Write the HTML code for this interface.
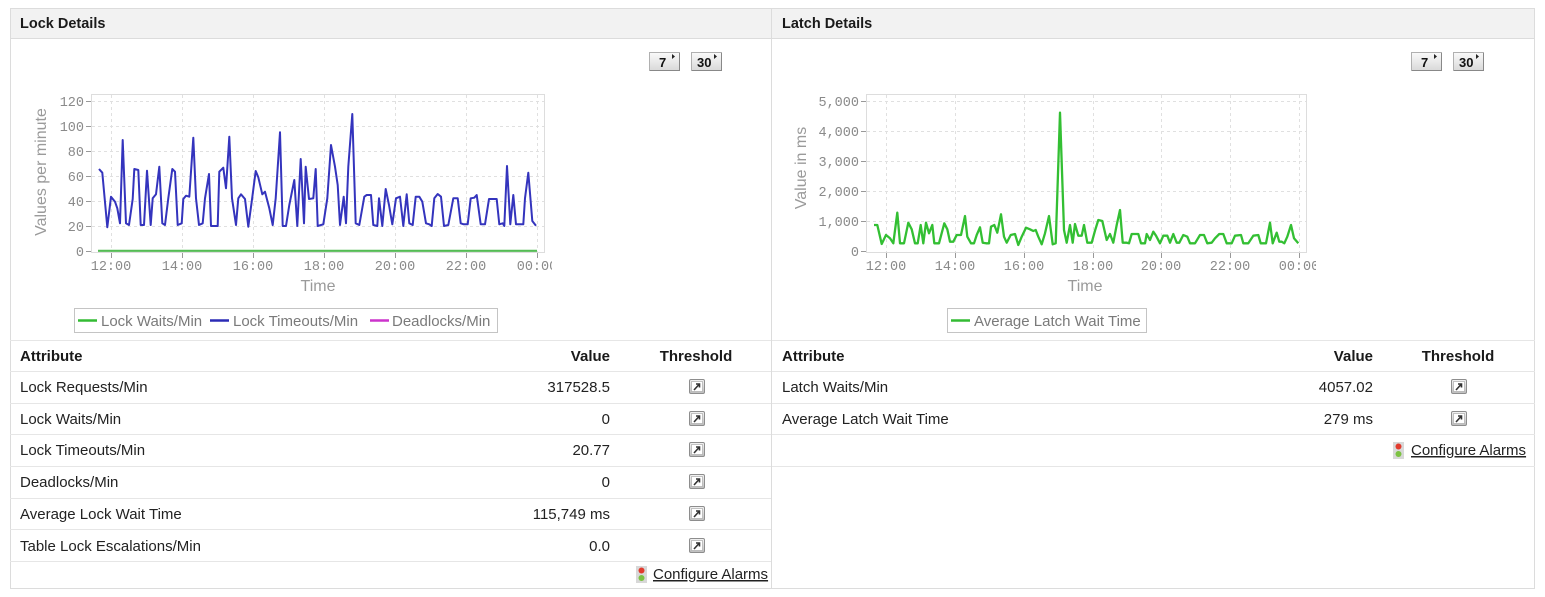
<!DOCTYPE html>
<html>
<head>
<meta charset="utf-8">
<style>
  html,body{margin:0;padding:0;background:#fff;}
  body{width:1545px;height:597px;overflow:hidden;font-family:"Liberation Sans",Arial,sans-serif;}
  svg{display:block;}
  .hdr{font:bold 14.5px "Liberation Sans",Arial,sans-serif;fill:#1a1a1a;}
  .th{font:bold 15px "Liberation Sans",Arial,sans-serif;fill:#1a1a1a;}
  .td{font:15px "Liberation Sans",Arial,sans-serif;fill:#222;}
  .tick{font:13.5px "Liberation Mono","Courier New",monospace;fill:#8a8a8a;}
  .axt{font:16px "Liberation Sans",Arial,sans-serif;fill:#9a9a9a;}
  .leg{font:15px "Liberation Sans",Arial,sans-serif;fill:#7a7a7a;}
  .btn{font:bold 13px "Liberation Sans",Arial,sans-serif;fill:#111;}
  .lnk{font:15px "Liberation Sans",Arial,sans-serif;fill:#222;text-decoration:underline;}
</style>
</head>
<body>
<svg width="1545" height="597" viewBox="0 0 1545 597" xmlns="http://www.w3.org/2000/svg">
  <defs>
    <linearGradient id="bg" x1="0" y1="0" x2="0" y2="1">
      <stop offset="0" stop-color="#fafafa"/>
      <stop offset="1" stop-color="#d9d9d9"/>
    </linearGradient>
    <linearGradient id="ig" x1="0" y1="0" x2="0" y2="1">
      <stop offset="0" stop-color="#f4f4f4"/>
      <stop offset="1" stop-color="#bdbdbd"/>
    </linearGradient>
    <clipPath id="cl"><rect x="0" y="80" width="552" height="220"/></clipPath>
    <clipPath id="cr"><rect x="780" y="80" width="536" height="220"/></clipPath>
    <g id="thr">
      <rect x="0.5" y="0.5" width="15" height="14" rx="1.5" fill="url(#ig)" stroke="#8d8d8d"/>
      <rect x="2.5" y="2.5" width="11" height="10" fill="#fff" stroke="#b5b5b5" stroke-width="0.8"/>
      <path d="M5 11 L10 5.5 M7 5 L10.5 5 L10.5 8.5" stroke="#333" stroke-width="1.6" fill="none"/>
    </g>
    <g id="tl">
      <rect x="0" y="0" width="11" height="17" fill="#d8d8d8"/>
      <circle cx="5.5" cy="4.5" r="3" fill="#e23b2e"/>
      <circle cx="5.5" cy="12" r="3" fill="#7cc242"/>
    </g>
  </defs>

  <!-- outer frame -->
  <rect x="10.5" y="8.5" width="1524" height="580" fill="#fff" stroke="#dcdcdc"/>
  <rect x="11" y="9" width="1523" height="29" fill="#f2f2f2"/>
  <line x1="10" y1="38.5" x2="1535" y2="38.5" stroke="#dcdcdc"/>
  <line x1="771.5" y1="8" x2="771.5" y2="589" stroke="#dcdcdc"/>
  <text class="hdr" x="20" y="28">Lock Details</text>
  <text class="hdr" x="782" y="28">Latch Details</text>

  <!-- buttons left -->
  <g>
    <rect x="649.5" y="52.5" width="30" height="18" fill="url(#bg)" stroke="#b0b0b0"/>
    <line x1="650" y1="70.5" x2="680" y2="70.5" stroke="#888"/>
    <line x1="679.5" y1="53" x2="679.5" y2="71" stroke="#888"/>
    <text class="btn" x="659" y="67">7</text>
    <path d="M672 54 L675 56.5 L672 59 Z" fill="#222"/>
    <rect x="691.5" y="52.5" width="30" height="18" fill="url(#bg)" stroke="#b0b0b0"/>
    <line x1="692" y1="70.5" x2="722" y2="70.5" stroke="#888"/>
    <line x1="721.5" y1="53" x2="721.5" y2="71" stroke="#888"/>
    <text class="btn" x="697" y="67">30</text>
    <path d="M714 54 L717 56.5 L714 59 Z" fill="#222"/>
  </g>
  <!-- buttons right -->
  <g>
    <rect x="1411.5" y="52.5" width="30" height="18" fill="url(#bg)" stroke="#b0b0b0"/>
    <line x1="1412" y1="70.5" x2="1442" y2="70.5" stroke="#888"/>
    <line x1="1441.5" y1="53" x2="1441.5" y2="71" stroke="#888"/>
    <text class="btn" x="1421" y="67">7</text>
    <path d="M1434 54 L1437 56.5 L1434 59 Z" fill="#222"/>
    <rect x="1453.5" y="52.5" width="30" height="18" fill="url(#bg)" stroke="#b0b0b0"/>
    <line x1="1454" y1="70.5" x2="1484" y2="70.5" stroke="#888"/>
    <line x1="1483.5" y1="53" x2="1483.5" y2="71" stroke="#888"/>
    <text class="btn" x="1459" y="67">30</text>
    <path d="M1476 54 L1479 56.5 L1476 59 Z" fill="#222"/>
  </g>

  <!-- ============ LEFT CHART ============ -->
  <rect x="91.5" y="94.5" width="453" height="158" fill="#fff" stroke="#dddddd"/>
  <g stroke="#e0e0e0" stroke-dasharray="3,3" stroke-width="1">
    <line x1="92" y1="101.5" x2="544" y2="101.5"/>
    <line x1="92" y1="126.5" x2="544" y2="126.5"/>
    <line x1="92" y1="151.5" x2="544" y2="151.5"/>
    <line x1="92" y1="176.5" x2="544" y2="176.5"/>
    <line x1="92" y1="201.5" x2="544" y2="201.5"/>
    <line x1="92" y1="226.5" x2="544" y2="226.5"/>
    <line x1="111.5" y1="95" x2="111.5" y2="252"/>
    <line x1="182.5" y1="95" x2="182.5" y2="252"/>
    <line x1="253.5" y1="95" x2="253.5" y2="252"/>
    <line x1="324.5" y1="95" x2="324.5" y2="252"/>
    <line x1="395.5" y1="95" x2="395.5" y2="252"/>
    <line x1="466.5" y1="95" x2="466.5" y2="252"/>
    <line x1="537.5" y1="95" x2="537.5" y2="252"/>
  </g>
  <g stroke="#999" stroke-width="1">
    <line x1="86" y1="101.5" x2="91" y2="101.5"/>
    <line x1="86" y1="126.5" x2="91" y2="126.5"/>
    <line x1="86" y1="151.5" x2="91" y2="151.5"/>
    <line x1="86" y1="176.5" x2="91" y2="176.5"/>
    <line x1="86" y1="201.5" x2="91" y2="201.5"/>
    <line x1="86" y1="226.5" x2="91" y2="226.5"/>
    <line x1="86" y1="251.5" x2="91" y2="251.5"/>
    <line x1="111.5" y1="253" x2="111.5" y2="258"/>
    <line x1="182.5" y1="253" x2="182.5" y2="258"/>
    <line x1="253.5" y1="253" x2="253.5" y2="258"/>
    <line x1="324.5" y1="253" x2="324.5" y2="258"/>
    <line x1="395.5" y1="253" x2="395.5" y2="258"/>
    <line x1="466.5" y1="253" x2="466.5" y2="258"/>
    <line x1="537.5" y1="253" x2="537.5" y2="258"/>
  </g>
  <g class="tick" text-anchor="end">
    <text x="84" y="106">120</text>
    <text x="84" y="131">100</text>
    <text x="84" y="156">80</text>
    <text x="84" y="181">60</text>
    <text x="84" y="206">40</text>
    <text x="84" y="231">20</text>
    <text x="84" y="256">0</text>
  </g>
  <g class="tick" text-anchor="middle" clip-path="url(#cl)">
    <text x="111" y="270">12:00</text>
    <text x="182" y="270">14:00</text>
    <text x="253" y="270">16:00</text>
    <text x="324" y="270">18:00</text>
    <text x="395" y="270">20:00</text>
    <text x="466" y="270">22:00</text>
    <text x="537" y="270">00:00</text>
  </g>
  <text class="axt" x="318" y="291" text-anchor="middle">Time</text>
  <text class="axt" transform="translate(46,172) rotate(-90)" text-anchor="middle">Values per minute</text>

  <line x1="98" y1="250.8" x2="537" y2="250.8" stroke="#55bb55" stroke-width="2.2"/>
  <polyline fill="none" stroke="#3434bd" stroke-width="2" stroke-linejoin="round" points="99,169 102.3,172.7 107.3,227.3 111,196.7 115,201.7 117.3,208.3 120,223.3 122.7,140 126,223.3 129,225 132.7,199 134.3,169 138.3,170 140.7,225 144,225 147,170.7 150.7,225 152.7,198.3 156,194.3 159.3,166.7 162.3,223.3 165,225 168.3,198.3 172.3,169 175,171.7 177.7,225 181.7,223.3 183.3,199 186,195.7 189.3,196.7 193.3,137.7 196,198.3 199,225 202.7,223.3 205,198.3 209,174 211,226 215,226 217.7,226 219.3,171.7 223.3,167.7 226,188.3 229.3,136.7 232,198.3 236,225 238.3,198.3 241,194.3 245,199 248.3,226.7 251.7,201.7 255.7,171 258.3,177.3 262.3,194.3 265,191.7 269.3,208.3 272.7,225 275.7,198.3 280,132.3 282.7,226 286,226 289.3,205 294.3,180 297.3,226 300.7,159 304,223.3 305.7,166.7 309,199 313.3,198.3 315.7,169 317.7,226 323.3,224.3 327.3,198.3 331,145 335,166.7 337.7,185 340,225 343.7,196.7 346,223.3 348.3,166.7 352.3,114 355.7,223.3 359.3,225 364.3,196.7 366.7,195 371,195 373.3,225 377.3,226 379,198.3 382.3,226 385.7,189 389,205 392.3,224.3 396,198.3 400,196.7 403.3,226 406.7,194.3 409.3,223.3 412.7,225 415.7,196.7 419.3,196.7 422.3,201.7 426,223.3 429.3,224.3 431.7,226 434.3,198.3 437.7,194 441,196.7 444,226 448.3,225 453.3,198.3 457.7,198.3 460.7,223.3 463.7,224.3 467.7,224.3 470.7,198.3 474.3,197.7 476.7,195 480.7,224.3 485,224.3 489,199 492.3,199 496.7,199 499.3,224.3 502.7,223.3 504.3,226 507,166 510.3,224.3 513.3,195 516,224.3 519,224.3 523.3,224.3 525,198.3 528.3,172.7 532.3,221 536,225.7"/>

  <!-- left legend -->
  <rect x="74.5" y="308.5" width="423" height="24" fill="#fff" stroke="#c4c4c4"/>
  <line x1="78" y1="320.5" x2="97" y2="320.5" stroke="#33bb33" stroke-width="2.5"/>
  <text class="leg" x="101" y="326">Lock Waits/Min</text>
  <line x1="210" y1="320.5" x2="229" y2="320.5" stroke="#2b2bb5" stroke-width="2.5"/>
  <text class="leg" x="233" y="326">Lock Timeouts/Min</text>
  <line x1="370" y1="320.5" x2="389" y2="320.5" stroke="#cc33cc" stroke-width="2.5"/>
  <text class="leg" x="392" y="326">Deadlocks/Min</text>

  <!-- ============ RIGHT CHART ============ -->
  <rect x="866.5" y="94.5" width="440" height="158" fill="#fff" stroke="#dddddd"/>
  <g stroke="#e0e0e0" stroke-dasharray="3,3" stroke-width="1">
    <line x1="867" y1="101.5" x2="1306" y2="101.5"/>
    <line x1="867" y1="131.5" x2="1306" y2="131.5"/>
    <line x1="867" y1="161.5" x2="1306" y2="161.5"/>
    <line x1="867" y1="191.5" x2="1306" y2="191.5"/>
    <line x1="867" y1="221.5" x2="1306" y2="221.5"/>
    <line x1="886.5" y1="95" x2="886.5" y2="252"/>
    <line x1="955.5" y1="95" x2="955.5" y2="252"/>
    <line x1="1024.5" y1="95" x2="1024.5" y2="252"/>
    <line x1="1093.5" y1="95" x2="1093.5" y2="252"/>
    <line x1="1161.5" y1="95" x2="1161.5" y2="252"/>
    <line x1="1230.5" y1="95" x2="1230.5" y2="252"/>
    <line x1="1299.5" y1="95" x2="1299.5" y2="252"/>
  </g>
  <g stroke="#999" stroke-width="1">
    <line x1="861" y1="101.5" x2="866" y2="101.5"/>
    <line x1="861" y1="131.5" x2="866" y2="131.5"/>
    <line x1="861" y1="161.5" x2="866" y2="161.5"/>
    <line x1="861" y1="191.5" x2="866" y2="191.5"/>
    <line x1="861" y1="221.5" x2="866" y2="221.5"/>
    <line x1="861" y1="251.5" x2="866" y2="251.5"/>
    <line x1="886.5" y1="253" x2="886.5" y2="258"/>
    <line x1="955.5" y1="253" x2="955.5" y2="258"/>
    <line x1="1024.5" y1="253" x2="1024.5" y2="258"/>
    <line x1="1093.5" y1="253" x2="1093.5" y2="258"/>
    <line x1="1161.5" y1="253" x2="1161.5" y2="258"/>
    <line x1="1230.5" y1="253" x2="1230.5" y2="258"/>
    <line x1="1299.5" y1="253" x2="1299.5" y2="258"/>
  </g>
  <g class="tick" text-anchor="end">
    <text x="859" y="106">5,000</text>
    <text x="859" y="136">4,000</text>
    <text x="859" y="166">3,000</text>
    <text x="859" y="196">2,000</text>
    <text x="859" y="226">1,000</text>
    <text x="859" y="256">0</text>
  </g>
  <g class="tick" text-anchor="middle" clip-path="url(#cr)">
    <text x="886" y="270">12:00</text>
    <text x="955" y="270">14:00</text>
    <text x="1024" y="270">16:00</text>
    <text x="1093" y="270">18:00</text>
    <text x="1161" y="270">20:00</text>
    <text x="1230" y="270">22:00</text>
    <text x="1299" y="270">00:00</text>
  </g>
  <text class="axt" x="1085" y="291" text-anchor="middle">Time</text>
  <text class="axt" transform="translate(806,168) rotate(-90)" text-anchor="middle">Value in ms</text>

  <polyline fill="none" stroke="#33bf33" stroke-width="2.3" stroke-linejoin="round" points="874,225 877.3,225 881.7,244 886,235 890,238.3 893.3,243.3 897.3,212.7 900,243.3 904,243.3 908.3,222.7 911.7,229.3 915,243.3 917.7,243.3 920.7,225 923.3,243.3 926,222.7 929,233.3 932.3,225 934.3,243.3 939,243.3 944.3,223.3 947.3,229.3 950,241.7 953.3,241.7 956.7,235 961,235 965,216 967.3,236.7 971,243.3 974,243.3 976.7,235 980,227.3 982.7,242.7 986,243.3 989,243.3 991,226.7 994.3,225 997.3,232.7 1001,214.3 1004,236.7 1006.7,242.7 1010.7,235 1015,234 1018.3,245 1021.7,236.7 1026,227.7 1030,229.3 1033.3,231 1035.7,230 1038.3,236.7 1041.7,244.3 1045,233.3 1049,216 1052.7,244.3 1055.7,243.3 1060,112.7 1064,230 1066.7,242.7 1070,225 1072.7,242.7 1075,224 1078.3,235.7 1081.7,235.7 1084,225 1087.3,242.7 1091.7,242.7 1095,230.7 1098.3,220 1102.3,221 1106.7,240 1110,234 1113.3,242.7 1116.7,225 1120,210 1122.7,242.7 1126.7,242.7 1129,243.3 1131.7,234 1138.3,234 1141,243.3 1145,243.3 1146.7,234 1150,240 1153.3,231.7 1156,235.7 1160,243.3 1163.3,235.7 1167.3,235.7 1170,242.7 1173.3,234 1176.7,242.7 1179.3,242.7 1183.3,235 1187.3,236.7 1190,243.3 1195,243.3 1200,235 1204,235 1207.3,243.3 1211.7,242.7 1215,238.3 1219.3,234 1223.3,234 1226.7,243.3 1231.7,243.3 1235,235.7 1241,235 1243.3,243.3 1248.3,243.3 1253.3,235.7 1258.3,235 1260.7,243.3 1266,243.3 1270,222.7 1272.7,243.3 1276.7,232.7 1279.3,241.7 1281.7,241.7 1284.3,243.3 1287.3,236.7 1291,225 1294,238.3 1298.3,243.3"/>

  <!-- right legend -->
  <rect x="947.5" y="308.5" width="199" height="24" fill="#fff" stroke="#c4c4c4"/>
  <line x1="951" y1="320.5" x2="970" y2="320.5" stroke="#33bb33" stroke-width="2.5"/>
  <text class="leg" x="974" y="326">Average Latch Wait Time</text>

  <!-- ============ LEFT TABLE ============ -->
  <g stroke="#e6e6e6" stroke-width="1">
    <line x1="10" y1="340.5" x2="771" y2="340.5"/>
    <line x1="10" y1="371.5" x2="771" y2="371.5"/>
    <line x1="10" y1="403.5" x2="771" y2="403.5"/>
    <line x1="10" y1="434.5" x2="771" y2="434.5"/>
    <line x1="10" y1="466.5" x2="771" y2="466.5"/>
    <line x1="10" y1="498.5" x2="771" y2="498.5"/>
    <line x1="10" y1="529.5" x2="771" y2="529.5"/>
    <line x1="10" y1="561.5" x2="771" y2="561.5"/>
  </g>
  <text class="th" x="20" y="361">Attribute</text>
  <text class="th" x="610" y="361" text-anchor="end">Value</text>
  <text class="th" x="696" y="361" text-anchor="middle">Threshold</text>

  <text class="td" x="20" y="392">Lock Requests/Min</text>
  <text class="td" x="610" y="392" text-anchor="end">317528.5</text>
  <use href="#thr" x="689" y="379"/>

  <text class="td" x="20" y="424">Lock Waits/Min</text>
  <text class="td" x="610" y="424" text-anchor="end">0</text>
  <use href="#thr" x="689" y="411"/>

  <text class="td" x="20" y="455">Lock Timeouts/Min</text>
  <text class="td" x="610" y="455" text-anchor="end">20.77</text>
  <use href="#thr" x="689" y="442"/>

  <text class="td" x="20" y="487">Deadlocks/Min</text>
  <text class="td" x="610" y="487" text-anchor="end">0</text>
  <use href="#thr" x="689" y="474"/>

  <text class="td" x="20" y="519">Average Lock Wait Time</text>
  <text class="td" x="610" y="519" text-anchor="end">115,749 ms</text>
  <use href="#thr" x="689" y="506"/>

  <text class="td" x="20" y="551">Table Lock Escalations/Min</text>
  <text class="td" x="610" y="551" text-anchor="end">0.0</text>
  <use href="#thr" x="689" y="538"/>

  <use href="#tl" x="636" y="566"/>
  <text class="lnk" x="653" y="579">Configure Alarms</text>

  <!-- ============ RIGHT TABLE ============ -->
  <g stroke="#e6e6e6" stroke-width="1">
    <line x1="772" y1="340.5" x2="1535" y2="340.5"/>
    <line x1="772" y1="371.5" x2="1535" y2="371.5"/>
    <line x1="772" y1="403.5" x2="1535" y2="403.5"/>
    <line x1="772" y1="434.5" x2="1535" y2="434.5"/>
    <line x1="772" y1="466.5" x2="1535" y2="466.5"/>
  </g>
  <text class="th" x="782" y="361">Attribute</text>
  <text class="th" x="1373" y="361" text-anchor="end">Value</text>
  <text class="th" x="1458" y="361" text-anchor="middle">Threshold</text>

  <text class="td" x="782" y="392">Latch Waits/Min</text>
  <text class="td" x="1373" y="392" text-anchor="end">4057.02</text>
  <use href="#thr" x="1451" y="379"/>

  <text class="td" x="782" y="424">Average Latch Wait Time</text>
  <text class="td" x="1373" y="424" text-anchor="end">279 ms</text>
  <use href="#thr" x="1451" y="411"/>

  <use href="#tl" x="1393" y="442"/>
  <text class="lnk" x="1411" y="455">Configure Alarms</text>
</svg>
</body>
</html>
